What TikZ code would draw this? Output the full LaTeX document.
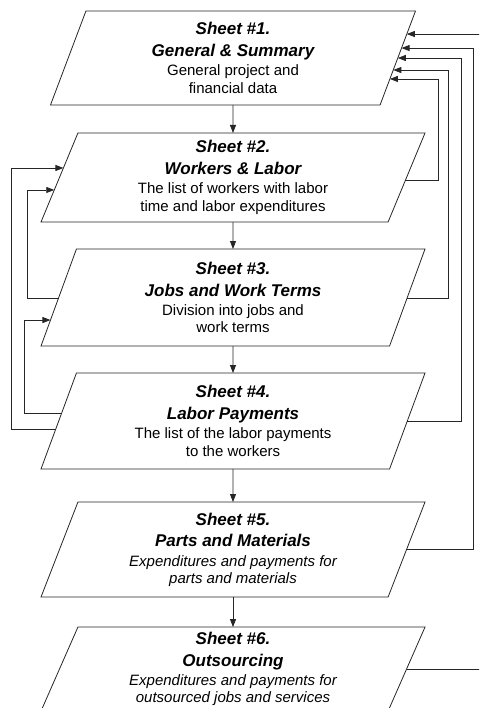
\documentclass[tikz,border=0pt]{standalone}
\usepackage{fontspec}
\setmainfont{Liberation Sans}
\usetikzlibrary{arrows.meta,positioning,shapes.geometric,calc}
\newcommand{\ttl}{\fontsize{17}{21.7}\selectfont\bfseries\itshape}
\newcommand{\dsc}{\fontsize{15}{17.3}\selectfont\mdseries\upshape}
\newcommand{\dsci}{\fontsize{15}{17.3}\selectfont\mdseries\itshape}

\begin{document}
\begin{tikzpicture}[x=1pt, y=-1pt,
  sheet/.style={trapezium, trapezium left angle=63.4, trapezium right angle=116.6,
                trapezium stretches body, draw=black!85, line width=0.8pt,
                align=center, inner sep=0pt, outer sep=0pt,
                minimum width=384pt, minimum height=95pt, font=\ttl},
  arr/.style={-{Triangle[length=8pt,width=6pt]}, line width=0.8pt, draw=black!85}]
  \useasboundingbox (0,0) rectangle (479,708);
  \clip (0,0) rectangle (479,708);

  % the six sheets
  \node[sheet, minimum width=365pt, minimum height=94pt] (s1) at (233,58)
    {Sheet \#1.\\General \& Summary\\[-2.4pt]\dsc General project and\\[-4.4pt]\dsc financial data};
  \node[sheet, minimum height=89pt, below=28pt of s1] (s2)
    {Sheet \#2.\\Workers \& Labor\\[-2.4pt]\dsc The list of workers with labor\\[-4.4pt]\dsc time and labor expenditures};
  \node[sheet, minimum height=97pt, below=27pt of s2] (s3)
    {Sheet \#3.\\Jobs and Work Terms\\[-2.4pt]\dsc Division into jobs and\\[-4.4pt]\dsc work terms};
  \node[sheet, minimum height=96pt, below=27pt of s3] (s4)
    {Sheet \#4.\\Labor Payments\\[-2.4pt]\dsc The list of the labor payments\\[-4.4pt]\dsc to the workers};
  \node[sheet, below=33pt of s4] (s5)
    {Sheet \#5.\\Parts and Materials\\[-2.4pt]\dsci Expenditures and payments for\\[-4.4pt]\dsci parts and materials};
  \node[sheet, minimum height=84pt, below=30pt of s5] (s6)
    {Sheet \#6.\\Outsourcing\\[-2.4pt]\dsci Expenditures and payments for\\[-4.4pt]\dsci outsourced jobs and services};

  % main flow
  \draw[arr] (s1.center |- s1.south) -- (s2.center |- s2.north);
  \draw[arr] (s2.center |- s2.south) -- (s3.center |- s3.north);
  \draw[arr] (s3.center |- s3.south) -- (s4.center |- s4.north);
  \draw[arr] (s4.center |- s4.south) -- (s5.center |- s5.north);
  \draw[arr] (s5.center |- s5.south) -- (s6.center |- s6.north);

  % points on the slanted edges
  \coordinate (s1a) at ($(s1.bottom right corner)!0.277!(s1.top right corner)$);
  \coordinate (s1b) at ($(s1.bottom right corner)!0.372!(s1.top right corner)$);
  \coordinate (s1c) at ($(s1.bottom right corner)!0.5!(s1.top right corner)$);
  \coordinate (s1d) at ($(s1.bottom right corner)!0.606!(s1.top right corner)$);
  \coordinate (s1e) at ($(s1.bottom right corner)!0.755!(s1.top right corner)$);
  \coordinate (s2r) at ($(s2.bottom right corner)!0.47!(s2.top right corner)$);
  \coordinate (s3r) at ($(s3.bottom right corner)!0.495!(s3.top right corner)$);
  \coordinate (s4r) at ($(s4.bottom right corner)!0.5!(s4.top right corner)$);
  \coordinate (s5r) at ($(s5.bottom right corner)!0.505!(s5.top right corner)$);
  \coordinate (s6r) at ($(s6.bottom right corner)!0.5!(s6.top right corner)$);
  \coordinate (s2a) at ($(s2.bottom left corner)!0.607!(s2.top left corner)$);
  \coordinate (s2b) at ($(s2.bottom left corner)!0.36!(s2.top left corner)$);
  \coordinate (s3a) at ($(s3.bottom left corner)!0.268!(s3.top left corner)$);
  \coordinate (s3l) at ($(s3.bottom left corner)!0.495!(s3.top left corner)$);
  \coordinate (s4a) at ($(s4.bottom left corner)!0.583!(s4.top left corner)$);
  \coordinate (s4l) at ($(s4.bottom left corner)!0.417!(s4.top left corner)$);

  % columns of the return lines
  \coordinate (r1) at (438,0);
  \coordinate (r2) at (448,0);
  \coordinate (r3) at (461,0);
  \coordinate (r4) at (473,0);
  \coordinate (r5) at (486,0);
  \coordinate (l1) at (11,0);
  \coordinate (l2) at (27,0);
  \coordinate (l3) at (24,0);

  % returns to sheet 1
  \draw[arr] (s2r) -- (s2r -| r1) |- (s1a);
  \draw[arr] (s3r) -- (s3r -| r2) |- (s1b);
  \draw[arr] (s4r) -- (s4r -| r3) |- (s1c);
  \draw[arr] (s5r) -- (s5r -| r4) |- (s1d);
  \draw[arr] (s6r) -- (s6r -| r5) |- (s1e);

  % returns on the left
  \draw[arr] (s4l) -- (s4l -| l1) |- (s2a);
  \draw[arr] (s3l) -- (s3l -| l2) |- (s2b);
  \draw[arr] (s4a) -- (s4a -| l3) |- (s3a);
\end{tikzpicture}
\end{document}
